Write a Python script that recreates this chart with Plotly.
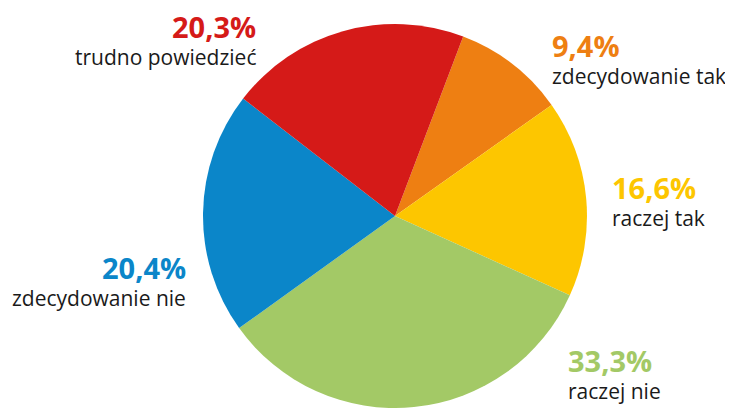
import plotly.graph_objects as go

labels = ["zdecydowanie tak", "raczej tak", "raczej nie", "zdecydowanie nie", "trudno powiedzieć"]
values = [9.4, 16.6, 33.3, 20.4, 20.3]
colors = ["#EE7F12", "#FDC600", "#A3C966", "#0B86C9", "#D51A18"]

# page has an 8px body margin; figure sized to fit the window
OFF = 8
W, H = 733 - OFF, 408 - OFF
T = 24 - OFF
PH = H - T
# label anchors (page pixel positions) and alignment for each slice
label_pos = [
    (550, 45, "left"),
    (610, 187, "left"),
    (566, 360, "left"),
    (188, 267, "right"),
    (258, 26, "right"),
]

cx = 395 - OFF
fig = go.Figure(go.Pie(
    labels=labels, values=values, sort=False, direction="clockwise",
    rotation=20.8, marker=dict(colors=colors, line=dict(width=0)),
    textinfo="none", hoverinfo="label+percent", showlegend=False,
    domain=dict(x=[(cx - 220) / W, (cx + 220) / W], y=[0, 1]),
))


def py(page_y):
    return (H - (page_y - OFF)) / PH


for lab, val, col, (x, y, al) in zip(labels, values, colors, label_pos):
    pct = f"{val:.1f}%".replace(".", ",")
    xa = "left" if al == "left" else "right"
    fx = (x - OFF) / W
    fig.add_annotation(x=fx, y=py(y), xref="paper", yref="paper",
                       text=f"<b>{pct}</b>", showarrow=False, xanchor=xa, yanchor="middle",
                       font=dict(family="Open Sans", size=29, color=col))
    fig.add_annotation(x=fx, y=py(y + 31), xref="paper", yref="paper",
                       text=lab, showarrow=False, xanchor=xa, yanchor="middle",
                       font=dict(family="Open Sans", size=21, color="#1a1a1a"))

fig.update_layout(width=W, height=H, margin=dict(l=0, r=0, t=T, b=0),
                  paper_bgcolor="white", plot_bgcolor="white")
fig.write_html("out.html")
